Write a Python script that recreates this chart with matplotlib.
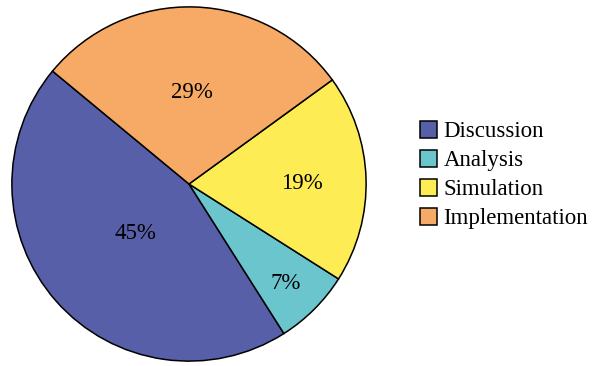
import matplotlib.pyplot as plt
import numpy as np

plt.rcParams['font.family'] = ['Liberation Serif', 'DejaVu Serif']

labels = ['Discussion', 'Analysis', 'Simulation', 'Implementation']
shares = [45, 7, 19, 29]
colors = ['#575fa9', '#6bc5cc', '#fdec54', '#f6aa66']
# radial position of each percentage label, as a fraction of the radius
label_dist = [0.40, 0.77, 0.64, 0.53]

fig = plt.figure(figsize=(5.94, 3.66), dpi=100)
ax = fig.add_axes([11 / 594, 4 / 366, 356 / 594, 356 / 366])

wedges, texts, autotexts = ax.pie(
    shares, colors=colors, startangle=140.4, counterclock=True,
    autopct='%d%%', radius=1,
    wedgeprops=dict(edgecolor='black', linewidth=1.1),
    textprops=dict(fontsize=16.5, color='black', va='center'))

for w, t, d in zip(wedges, autotexts, label_dist):
    mid = np.deg2rad((w.theta1 + w.theta2) / 2)
    t.set_position((d * np.cos(mid), d * np.sin(mid) - 0.015))

ax.set_xlim(-1.005, 1.005)
ax.set_ylim(-1.005, 1.005)
ax.set_aspect('equal')

ax.legend(wedges, labels, loc='center left', bbox_to_anchor=(1.122, 0.525),
          frameon=False, fontsize=16.5, handlelength=0.75, handleheight=0.75,
          handletextpad=0.3, labelspacing=0.33, borderaxespad=0)

plt.savefig('out.png', dpi=100)
